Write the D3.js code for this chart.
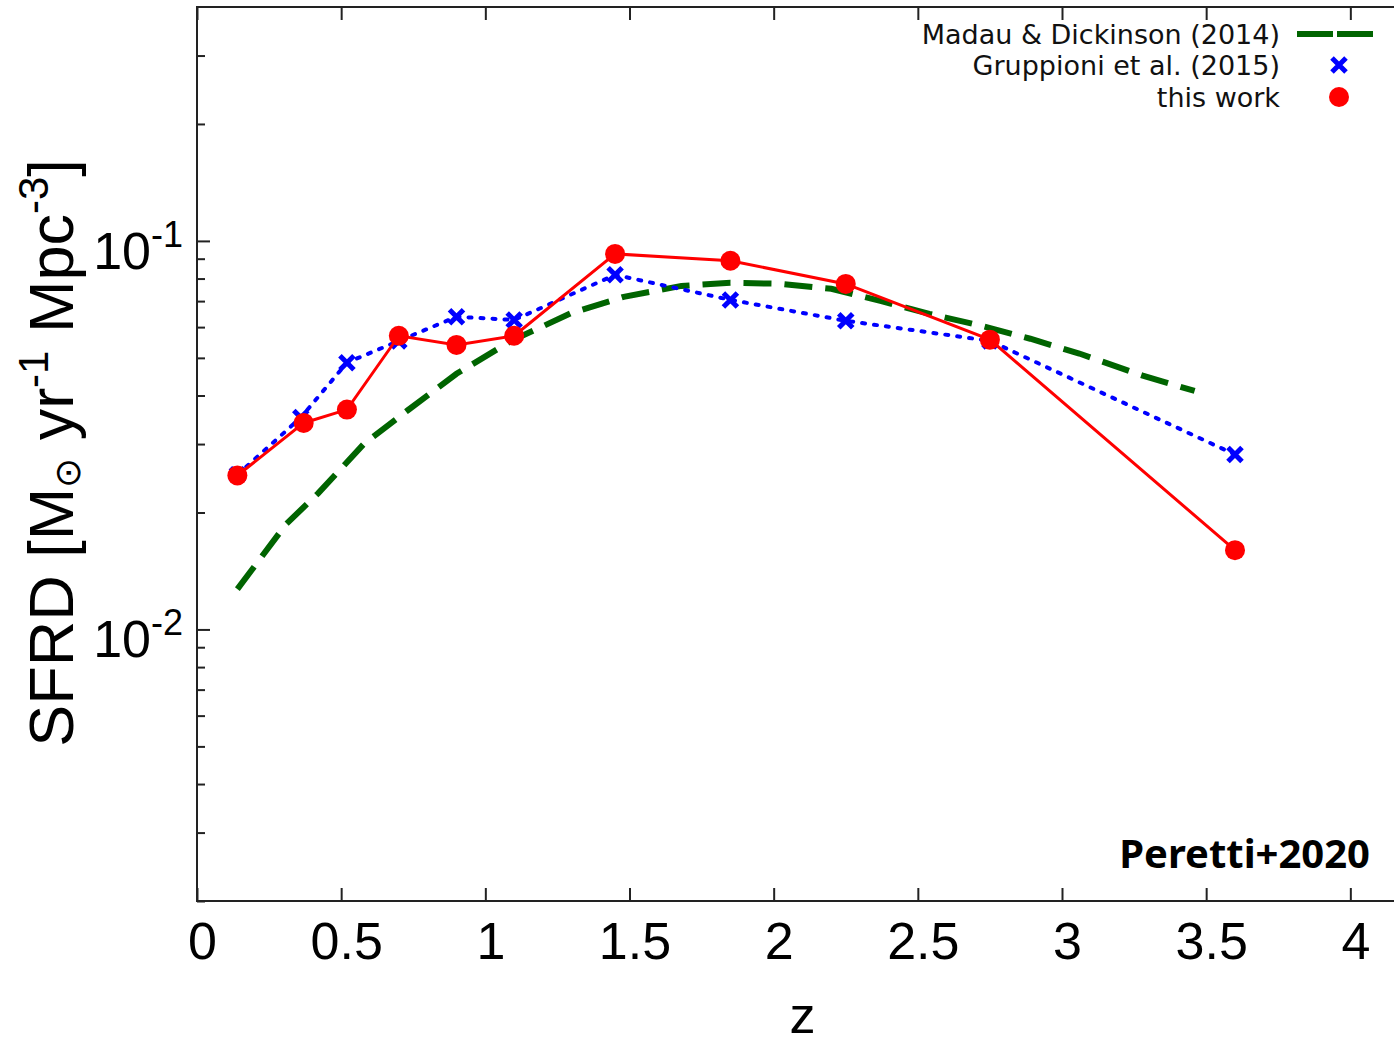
<!DOCTYPE html>
<html><head><meta charset="utf-8">
<script src="https://cdn.jsdelivr.net/npm/d3@7"></script>
<style>body{margin:0;background:#fff}svg{display:block}</style>
</head><body>
<svg id="c" width="1394" height="1043"></svg>
<script>
// ---- data ----
const zThis = [0.14, 0.37, 0.52, 0.70, 0.90, 1.10, 1.45, 1.85, 2.25, 2.75, 3.60];
const sfrdThis = [0.0249, 0.0340, 0.0368, 0.0570, 0.0540, 0.0570, 0.0926, 0.0889, 0.0775, 0.0557, 0.0160];
const zGrupp = [0.14, 0.36, 0.52, 0.70, 0.90, 1.10, 1.45, 1.85, 2.25, 2.75, 3.60];
const sfrdGrupp = [0.0250, 0.0351, 0.0486, 0.0553, 0.0638, 0.0626, 0.0818, 0.0705, 0.0623, 0.0553, 0.0282];
const zMD = [0.14, 0.31, 0.42, 0.58, 0.73, 0.90, 1.09, 1.30, 1.48, 1.68, 1.85, 2.02, 2.20, 2.37, 2.54, 2.72, 2.89, 3.06, 3.28, 3.46];
const sfrdMD = [0.0127, 0.0187, 0.0224, 0.0301, 0.0366, 0.0455, 0.0553, 0.0653, 0.0718, 0.0766, 0.0780, 0.0776, 0.0753, 0.0701, 0.0649, 0.0605, 0.0560, 0.0513, 0.0450, 0.0411];
const xTicks = [0, 0.5, 1, 1.5, 2, 2.5, 3, 3.5, 4];
const xTickLabels = ["0", "0.5", "1", "1.5", "2", "2.5", "3", "3.5", "4"];
const yMajor = [0.01, 0.1];
const yMajorExp = ["-2", "-1"];
const yMinor = [0.002,0.003,0.004,0.005,0.006,0.007,0.008,0.009,0.02,0.03,0.04,0.05,0.06,0.07,0.08,0.09,0.2,0.3];
const legendLabels = ["Madau & Dickinson (2014)", "Gruppioni et al. (2015)", "this work"];

// ---- layout ----
const L = 197, R = 1408, T = 7, B = 901;
const x = d3.scaleLinear().domain([0, 4.2]).range([L, R]);
const y = d3.scaleLog().domain([0.002, 0.4]).range([B, T]);
const svg = d3.select("#c");
const axisCol = "#222";

// ---- series ----
const line = d3.line().x(d => x(d[0])).y(d => y(d[1]));
const mdData = zMD.map((z, i) => [z, sfrdMD[i]]);
const grData = zGrupp.map((z, i) => [z, sfrdGrupp[i]]);
const twData = zThis.map((z, i) => [z, sfrdThis[i]]);

svg.append("path").datum(mdData).attr("d", line)
  .attr("fill", "none").attr("stroke", "#006400").attr("stroke-width", 6)
  .attr("stroke-dasharray", "28,13");

svg.append("path").datum(grData).attr("d", line)
  .attr("fill", "none").attr("stroke", "#0000ff").attr("stroke-width", 4)
  .attr("stroke-dasharray", "3,9").attr("stroke-linecap", "round");

const cross = (g, cx, cy, s) => {
  g.append("path")
    .attr("d", `M${cx - s},${cy - s}L${cx + s},${cy + s}M${cx - s},${cy + s}L${cx + s},${cy - s}`)
    .attr("stroke", "#0000ff").attr("stroke-width", 5).attr("fill", "none");
};
const gCross = svg.append("g");
grData.forEach(d => cross(gCross, x(d[0]), y(d[1]), 7));

svg.append("path").datum(twData).attr("d", line)
  .attr("fill", "none").attr("stroke", "#ff0000").attr("stroke-width", 3);
svg.append("g").selectAll("circle").data(twData).join("circle")
  .attr("cx", d => x(d[0])).attr("cy", d => y(d[1])).attr("r", 10)
  .attr("fill", "#ff0000");

// ---- frame & axes ----
svg.append("rect").attr("x", L).attr("y", T).attr("width", R - L).attr("height", B - T)
  .attr("fill", "none").attr("stroke", axisCol).attr("stroke-width", 2);

const xb = svg.append("g").attr("transform", `translate(0,${B})`)
  .call(d3.axisBottom(x).tickValues(xTicks).tickSize(-13).tickFormat((d, i) => xTickLabels[i]));
xb.select(".domain").remove();
xb.selectAll("line").attr("stroke", axisCol).attr("stroke-width", 2);
xb.selectAll("text").attr("x", 5).attr("y", 58).attr("dy", 0)
  .attr("font-family", "Liberation Sans, Arial, sans-serif").attr("font-size", 52).attr("fill", "#000");

const xt = svg.append("g").attr("transform", `translate(0,${T})`)
  .call(d3.axisTop(x).tickValues(xTicks).tickSize(-13).tickFormat(""));
xt.select(".domain").remove();
xt.selectAll("line").attr("stroke", axisCol).attr("stroke-width", 2);

const yl = svg.append("g").attr("transform", `translate(${L},0)`)
  .call(d3.axisLeft(y).tickValues(yMinor).tickSize(-8).tickFormat(""));
yl.select(".domain").remove();
yl.selectAll("line").attr("stroke", axisCol).attr("stroke-width", 2);
const ym = svg.append("g").attr("transform", `translate(${L},0)`)
  .call(d3.axisLeft(y).tickValues(yMajor).tickSize(-13).tickFormat(""));
ym.select(".domain").remove();
ym.selectAll("line").attr("stroke", axisCol).attr("stroke-width", 2);

yMajor.forEach((v, i) => {
  const t = svg.append("text").attr("x", 183).attr("y", y(v) + 28)
    .attr("text-anchor", "end").attr("font-family", "Liberation Sans, Arial, sans-serif")
    .attr("font-size", 52).attr("fill", "#000");
  t.append("tspan").text("10");
  t.append("tspan").attr("font-size", 36).attr("dy", -22).text(yMajorExp[i]);
});

// axis titles
svg.append("text").attr("x", x(2.1)).attr("y", 1033).attr("text-anchor", "middle")
  .attr("font-family", "Liberation Sans, Arial, sans-serif").attr("font-size", 52).attr("fill", "#000").text("z");

const yt = svg.append("text").attr("transform", `translate(73,453) rotate(-90)`)
  .attr("text-anchor", "middle").attr("font-family", "Liberation Sans, Arial, sans-serif")
  .attr("font-size", 63).attr("fill", "#000");
yt.append("tspan").text("SFRD [M");
yt.append("tspan").attr("font-size", 36).attr("dy", 7).text("\u2299");
yt.append("tspan").attr("dy", -7).text(" yr");
yt.append("tspan").attr("font-size", 42).attr("dy", -25).text("-1");
yt.append("tspan").attr("dy", 25).text(" Mpc");
yt.append("tspan").attr("font-size", 42).attr("dy", -25).text("-3");
yt.append("tspan").attr("dy", 25).text("]");

// ---- legend ----
const legY = [34, 65, 97];
const lg = svg.append("g");
legendLabels.forEach((s, i) => {
  lg.append("text").attr("x", 1280).attr("y", legY[i] + 10).attr("text-anchor", "end")
    .attr("font-family", "DejaVu Sans, sans-serif").attr("font-size", 27).attr("fill", "#111").text(s);
});
lg.append("line").attr("x1", 1297).attr("x2", 1373).attr("y1", legY[0]).attr("y2", legY[0])
  .attr("stroke", "#006400").attr("stroke-width", 6).attr("stroke-dasharray", "36,4");
cross(lg, 1339, legY[1], 7);
lg.append("circle").attr("cx", 1339).attr("cy", legY[2]).attr("r", 10).attr("fill", "#ff0000");

// annotation
svg.append("text").attr("x", 1370).attr("y", 868).attr("text-anchor", "end")
  .attr("font-family", "Noto Sans, sans-serif").attr("font-weight", "bold")
  .attr("font-size", 40).attr("fill", "#000").text("Peretti+2020");
</script>
</body></html>
